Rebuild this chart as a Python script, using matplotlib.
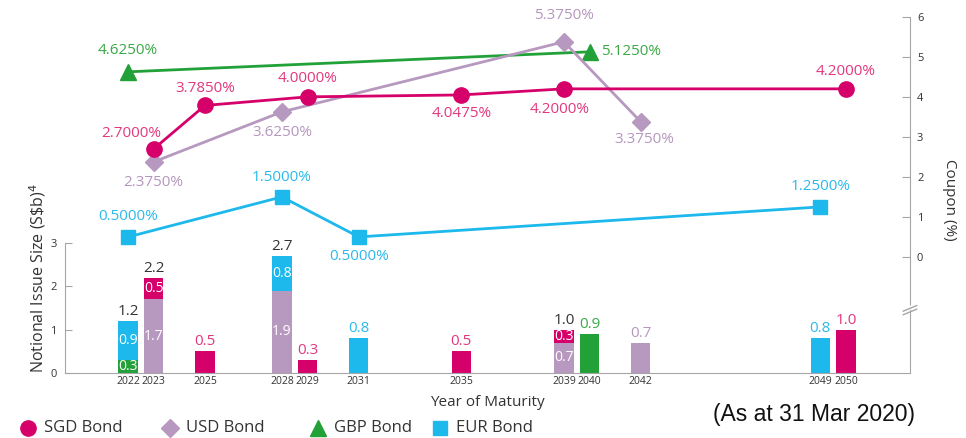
import numpy as np
import matplotlib
matplotlib.use('Agg')
import matplotlib.pyplot as plt
from matplotlib.lines import Line2D

plt.rcParams['font.family'] = ['Open Sans', 'DejaVu Sans']

# bar data: notional issue size (S$b)
years = [2022, 2023, 2025, 2028, 2029, 2031, 2035, 2039, 2040, 2042, 2049, 2050]
gbp_size = [0.3, 0, 0, 0, 0, 0, 0, 0, 0.9, 0, 0, 0]
usd_size = [0, 1.7, 0, 1.9, 0, 0, 0, 0.7, 0, 0.7, 0, 0]
sgd_size = [0, 0.5, 0.5, 0, 0.3, 0, 0.5, 0.3, 0, 0, 0, 1.0]
eur_size = [0.9, 0, 0, 0.8, 0, 0.8, 0, 0, 0, 0, 0.8, 0]

# line data: coupon (%)
sgd_years = [2023, 2025, 2029, 2035, 2039, 2050]
sgd_coupon = [2.7, 3.785, 4.0, 4.0475, 4.2, 4.2]
usd_years = [2023, 2028, 2039, 2042]
usd_coupon = [2.375, 3.625, 5.375, 3.375]
gbp_years = [2022, 2040]
gbp_coupon = [4.625, 5.125]
eur_years = [2022, 2028, 2031, 2049]
eur_coupon = [0.5, 1.5, 0.5, 1.25]

SGD = '#D6006B'
USD = '#B798BF'
GBP = '#22A139'
EUR = '#1DB8EC'
SGD_T = '#E2387D'
USD_T = '#B597BE'
GBP_T = '#3AA946'
EUR_T = '#2BB9EA'
AXC = '#A6A6A6'
TXT = '#333333'

fig = plt.figure(figsize=(9.66, 4.38), dpi=100)
ax = fig.add_axes([65/966, 65/438, 845/966, 357/438])
ax2 = ax.twinx()

# bars, stacked GBP / USD / SGD / EUR
series = [(gbp_size, GBP, GBP_T), (usd_size, USD, USD_T), (sgd_size, SGD, SGD_T), (eur_size, EUR, EUR_T)]
bottom = np.zeros(len(years))
for vals, col, tcol in series:
    vals = np.array(vals, dtype=float)
    ax.bar(years, vals, width=0.75, bottom=bottom, color=col, zorder=2)
    bottom += vals

nseg = sum((np.array(s[0]) > 0).astype(int) for s in series)
bottom = np.zeros(len(years))
for vals, col, tcol in series:
    for i, v in enumerate(vals):
        if v <= 0:
            continue
        if nseg[i] > 1:
            ax.text(years[i], bottom[i] + v / 2, f'{v:.1f}', ha='center', va='center',
                    color='white', fontsize=10, zorder=3)
        else:
            ax.text(years[i], v + 0.05, f'{v:.1f}', ha='center', va='bottom',
                    color=tcol, fontsize=11, zorder=3)
    bottom += np.array(vals, dtype=float)
for i, tot in enumerate(bottom):
    if nseg[i] > 1:
        ax.text(years[i], tot + 0.05, f'{tot:.1f}', ha='center', va='bottom',
                color=TXT, fontsize=11, zorder=3)

ax.set_xlim(2019.54, 2052.5)
ax.set_ylim(0, 8.24)
ax.set_yticks([0, 1, 2, 3])
ax.set_xticks(years)
ax.set_xticklabels([str(y) for y in years], fontsize=7.5, color=TXT)
ax.tick_params(axis='x', length=0, pad=2)
ax.tick_params(axis='y', direction='in', length=5, color=AXC, labelsize=8, labelcolor=TXT, pad=6)
ax.spines['left'].set_bounds(0, 3)
for s in ['left', 'bottom']:
    ax.spines[s].set_color(AXC)
ax.spines['top'].set_visible(False)
ax.spines['right'].set_visible(False)
ax.set_xlabel('Year of Maturity', fontsize=11, color=TXT, labelpad=6)
fig.text(38/966, 1 - 278/438, r'Notional Issue Size (S\$b)$^4$', rotation=90, ha='center', va='center',
         fontsize=11.5, color=TXT)

# coupon lines
ax2.plot(gbp_years, gbp_coupon, color=GBP, lw=2, marker='^', ms=11, zorder=3)
ax2.plot(sgd_years, sgd_coupon, color=SGD, lw=2, marker='o', ms=11, zorder=4)
ax2.plot(usd_years, usd_coupon, color=USD, lw=2, marker='D', ms=9, zorder=3)
ax2.plot(eur_years, eur_coupon, color=EUR, lw=2, marker='s', ms=10, zorder=3)

def lab(xs, ys, offs, col, ha='center'):
    for x, y, (dx, dy) in zip(xs, ys, offs):
        ax2.annotate(f'{y:.4f}%', (x, y), xytext=(dx, dy), textcoords='offset pixels',
                     ha=ha, va='center', color=col, fontsize=11)

lab(sgd_years, sgd_coupon, [(-22, 15), (0, 17), (0, 18), (0, -19), (-4, -21), (0, 17)], SGD_T)
lab(usd_years, usd_coupon, [(0, -21), (0, -21), (0, 26), (4, -18)], USD_T)
lab(gbp_years[:1], gbp_coupon[:1], [(0, 21)], GBP_T)
lab(gbp_years[1:], gbp_coupon[1:], [(12, 0)], GBP_T, ha='left')
lab(eur_years, eur_coupon, [(0, 20), (0, 19), (0, -20), (0, 20)], EUR_T)

ax2.set_ylim(-2.9, 6.02)
ax2.set_yticks(range(0, 7))
ax2.tick_params(axis='y', direction='in', length=6, color=AXC, labelsize=8, labelcolor=TXT, pad=5)
for s in ['left', 'top', 'bottom']:
    ax2.spines[s].set_visible(False)
ax2.spines['right'].set_color(AXC)
ax2.spines['right'].set_bounds(-2.9, 6)
fig.text(950/966, 1 - 200/438, 'Coupon (%)', rotation=270, ha='center', va='center',
         fontsize=11, color=TXT)

# axis break marks on right spine
yb = -1.33
tr = ax2.get_yaxis_transform()
ax2.add_line(Line2D([0.993, 1.007], [yb - 0.02, yb + 0.12], transform=tr, color='white', lw=3, clip_on=False, zorder=5))
for d in (-0.045, 0.045):
    ax2.add_line(Line2D([0.992, 1.008], [yb - 0.07 + d, yb + 0.07 + d], transform=tr,
                        color=AXC, lw=1, clip_on=False, zorder=6))

# legend, placed by hand
leg_names = ['SGD Bond', 'USD Bond', 'GBP Bond', 'EUR Bond']
leg_marks = [('o', 11, SGD), ('D', 9, USD), ('^', 11, GBP), ('s', 10, EUR)]
leg_x = [28, 170, 318, 440]
ly = 1 - 428/438
for name, (m, ms, c), x in zip(leg_names, leg_marks, leg_x):
    fig.add_artist(Line2D([x/966], [ly], ls='none', marker=m, ms=ms, color=c, transform=fig.transFigure))
    fig.text((x + 16)/966, ly, name, ha='left', va='center', fontsize=12, color=TXT)

fig.text(915/966, 1 - 415/438, '(As at 31 Mar 2020)', ha='right', va='center',
         fontsize=16.5, family='Liberation Sans', color='#111111')

fig.savefig('out.png', dpi=100)
